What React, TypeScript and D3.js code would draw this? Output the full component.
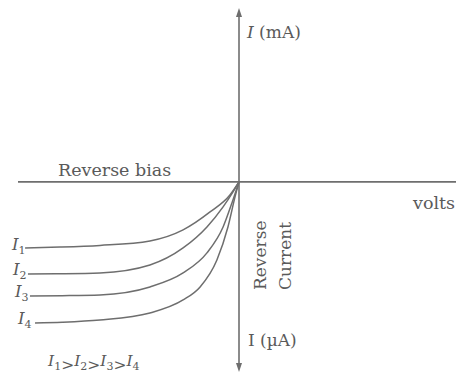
import React from "react";
import * as d3 from "d3";

// Reverse-bias characteristic of a photodiode: four illumination levels.
const curveNames = ["1", "2", "3", "4"];
const voltsI1 = [-9.68, -8.1, -6.29, -4.03, -2.53, -1.31, -0.41, 0];
const currentI1 = [-6.95, -6.86, -6.68, -6.21, -5.05, -3.16, -1.37, 0];
const voltsI2 = [-9.55, -8.0, -6.29, -4.03, -2.53, -1.45, -0.72, -0.27, 0];
const currentI2 = [-9.68, -9.66, -9.58, -8.74, -6.95, -4.74, -2.63, -1.05, 0];
const voltsI3 = [-9.46, -8.0, -6.29, -4.03, -2.53, -1.45, -0.72, -0.32, 0];
const currentI3 = [-12.0, -11.97, -11.89, -11.05, -9.58, -7.47, -4.74, -2.21, 0];
const voltsI4 = [-9.23, -8.0, -6.29, -4.03, -2.53, -1.76, -1.0, -0.5, -0.18, 0];
const currentI4 = [-14.84, -14.76, -14.53, -13.79, -12.42, -11.05, -8.21, -4.74, -1.58, 0];

const seriesVolts = [voltsI1, voltsI2, voltsI3, voltsI4];
const seriesCurrent = [currentI1, currentI2, currentI3, currentI4];

const W = 456;
const H = 374;
const ink = "#5a5a5a";
const lineInk = "#6e6e6e";
const font = "'DejaVu Serif', serif";

export default function App() {
  const x = d3.scaleLinear().domain([-10, 10]).range([18, 460]);
  const y = d3.scaleLinear().domain([18.3, -20]).range([8, 372]);
  const x0 = x(0);
  const y0 = y(0);

  const line = d3
    .line<[number, number]>()
    .x((d) => x(d[0]))
    .y((d) => y(d[1]))
    .curve(d3.curveMonotoneX);

  const curves = seriesVolts.map((vs, i) =>
    vs.map((v, j) => [v, seriesCurrent[i][j]] as [number, number])
  );

  const labelOffsets = [
    { dx: -13, dy: 2 },
    { dx: -15, dy: 1 },
    { dx: -15, dy: 1 },
    { dx: -17, dy: 1 },
  ];

  return (
    <svg
      width={W}
      height={H}
      style={{ position: "absolute", left: 0, top: 0, background: "#fff" }}
      fontFamily={font}
    >
      {/* axes */}
      <line x1={18} x2={W} y1={y0} y2={y0} stroke={lineInk} strokeWidth={1.6} />
      <line x1={x0} x2={x0} y1={y(18.3) + 6} y2={y(-20) - 6} stroke={lineInk} strokeWidth={1.6} />
      <path
        d={`M${x0},${y(18.3)} L${x0 - 3},${y(18.3) + 9} L${x0 + 3},${y(18.3) + 9} Z`}
        fill={lineInk}
      />
      <path
        d={`M${x0},${y(-20)} L${x0 - 3},${y(-20) - 9} L${x0 + 3},${y(-20) - 9} Z`}
        fill={lineInk}
      />

      {/* characteristic curves */}
      {curves.map((c, i) => (
        <path key={i} d={line(c) ?? ""} fill="none" stroke={lineInk} strokeWidth={1.5} />
      ))}

      {/* curve labels */}
      {curves.map((c, i) => (
        <text
          key={"l" + i}
          x={x(c[0][0]) + labelOffsets[i].dx}
          y={y(c[0][1]) + labelOffsets[i].dy}
          fontSize={16.5}
          fill={ink}
        >
          <tspan fontStyle="italic">I</tspan>
          <tspan fontSize={11} dy={4}>{curveNames[i]}</tspan>
        </text>
      ))}

      {/* axis and region labels */}
      <text x={58} y={176} fontSize={17.5} fill={ink}>Reverse bias</text>
      <text x={413} y={209} fontSize={17.5} fill={ink}>volts</text>
      <text x={247} y={38} fontSize={17} fill={ink}>
        <tspan fontStyle="italic">I</tspan> (mA)
      </text>
      <text x={248} y={346} fontSize={17} fill={ink}>I (µA)</text>
      <text transform="translate(266,290) rotate(-90)" fontSize={17} fill={ink}>Reverse</text>
      <text transform="translate(291,290) rotate(-90)" fontSize={17} fill={ink}>Current</text>

      <text x={48} y={366} fontSize={15.5} fill={ink}>
        {curveNames.map((n, i) => (
          <React.Fragment key={"o" + i}>
            <tspan fontStyle="italic" dy={i === 0 ? 0 : -4}>I</tspan>
            <tspan fontSize={11} dy={4}>{n}</tspan>
            {i < curveNames.length - 1 ? <tspan>&gt;</tspan> : null}
          </React.Fragment>
        ))}
      </text>
    </svg>
  );
}
